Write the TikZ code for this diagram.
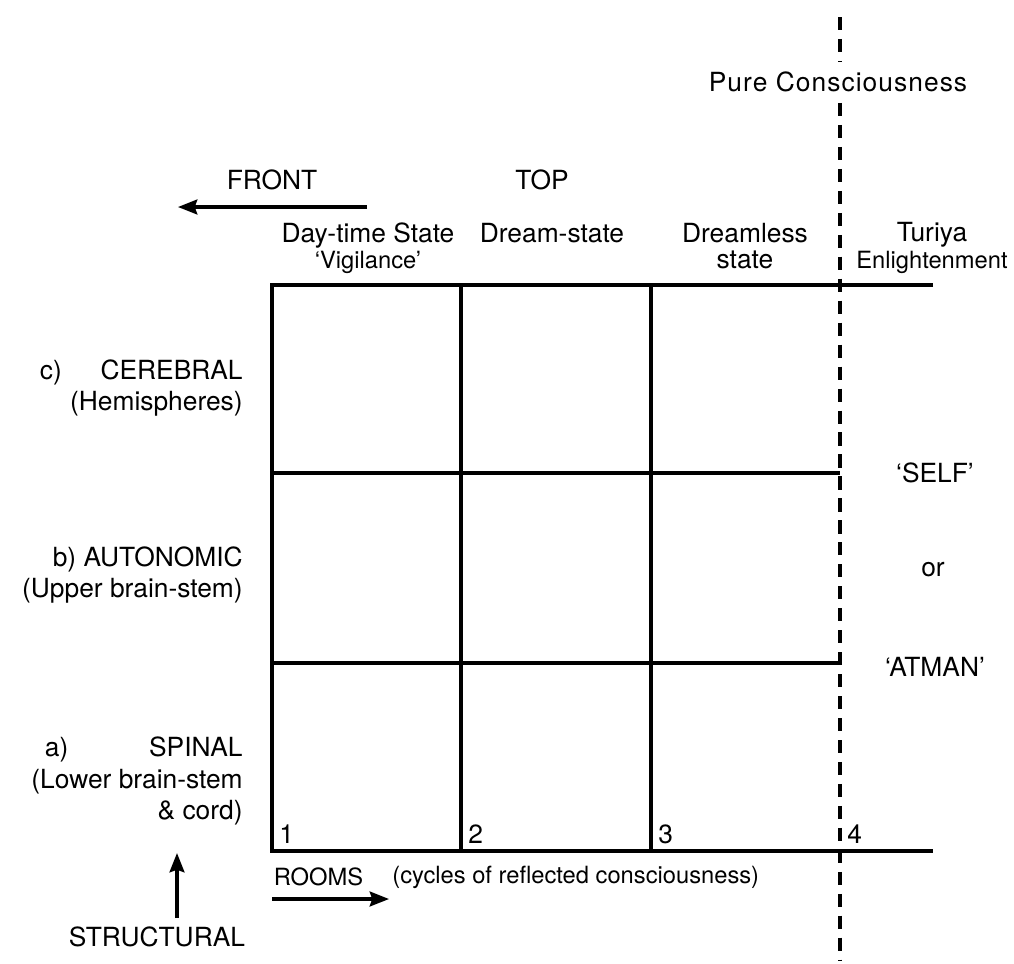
\documentclass[tikz,border=0pt]{standalone}
\usepackage{fontspec}
\setmainfont{TeX Gyre Heros}
\newfontfamily\spacedfont[LetterSpace=4]{TeX Gyre Heros}
\usetikzlibrary{arrows.meta}

\begin{document}
\begin{tikzpicture}[
    txt/.style={font=\fontsize{15}{18}\selectfont, inner sep=2pt},
    smalltxt/.style={font=\fontsize{13.5}{16}\selectfont, inner sep=2pt},
    heading/.style={txt, align=center},
    side/.style={txt, align=right, anchor=east},
    cellno/.style={txt, anchor=south west, inner sep=4pt},
    gridline/.style={line width=1.8pt},
    border/.style={dash pattern=on 7.5pt off 5pt, line width=1.8pt},
    arrow/.style={-{Stealth[length=11pt,width=8.5pt,inset=1.5pt]}, line width=1.8pt}
]
\useasboundingbox (0,0) rectangle (20.28,-19.28);

% Griglia delle stanze
\draw[gridline] (18.66,-5.70) -- (5.44,-5.70) -- (5.44,-17.02) -- (18.66,-17.02);
\draw[gridline] (5.44,-9.46) -- (16.80,-9.46);
\draw[gridline] (5.44,-13.26) -- (16.80,-13.26);
\foreach \x in {9.22,13.02}
    \draw[gridline] (\x,-5.70) -- (\x,-17.02);

% Linea tratteggiata
\node[txt, inner sep=6pt] (pure) at (16.76,-1.64) {\spacedfont Pure Consciousness};
\coordinate (dtop) at (16.80,-0.34);
\coordinate (dbot) at (16.80,-19.20);
\draw[border] (dtop) -- (pure.north -| dtop);
\draw[border] (pure.south -| dtop) -- (dbot);

% Intestazioni
\node[txt] (front) at (5.44,-3.60) {FRONT};
\node[txt] (top) at (10.84,-3.60) {TOP};
\node[heading] (day) at (7.36,-4.96) {Day-time State\\[-3pt]{\fontsize{13.5}{16}\selectfont `Vigilance'}};
\node[txt] (dream) at (11.04,-4.66) {Dream-state};
\node[heading] (dreamless) at (14.90,-4.92) {Dreamless\\[-3pt]state};
\node[heading] (turiya) at (18.64,-4.96) {Turiya\\[-3pt]{\fontsize{13.5}{16}\selectfont Enlightenment}};

% Livelli
\node[side] (cerebral) at (4.93,-7.76) {c)\hspace{22pt}CEREBRAL\\(Hemispheres)};
\node[side] (autonomic) at (4.93,-11.50) {b) AUTONOMIC\\(Upper brain-stem)};
\node[side] (spinal) at (4.93,-15.62) {a)\hspace{46pt}SPINAL\\(Lower brain-stem\\\& cord)};

% Lato destro
\node[txt] (self) at (18.70,-9.46) {`SELF'};
\node[txt] (or) at (18.66,-11.40) {or};
\node[txt] (atman) at (18.70,-13.34) {`ATMAN'};

% Numeri delle stanze
\node[cellno] (n1) at (5.44,-17.02) {1};
\node[cellno] (n2) at (9.22,-17.02) {2};
\node[cellno] (n3) at (13.02,-17.02) {3};
\node[cellno] (n4) at (16.80,-17.02) {4};

% Etichette in basso
\node[smalltxt, anchor=west] (rooms) at (5.40,-17.54) {ROOMS};
\node[smalltxt, anchor=west] (cycles) at (7.77,-17.54) {(cycles of reflected consciousness)};
\node[txt] (structural) at (3.14,-18.74) {STRUCTURAL};

% Frecce
\coordinate (fronta) at (7.34,-4.14);
\coordinate (frontb) at (3.56,-4.14);
\coordinate (roomsa) at (5.44,-17.98);
\coordinate (roomsb) at (7.78,-17.98);
\coordinate (structa) at (3.54,-18.36);
\coordinate (structb) at (3.54,-17.06);
\draw[arrow] (fronta) -- (frontb);
\draw[arrow] (roomsa) -- (roomsb);
\draw[arrow] (structa) -- (structb);
\end{tikzpicture}
\end{document}
